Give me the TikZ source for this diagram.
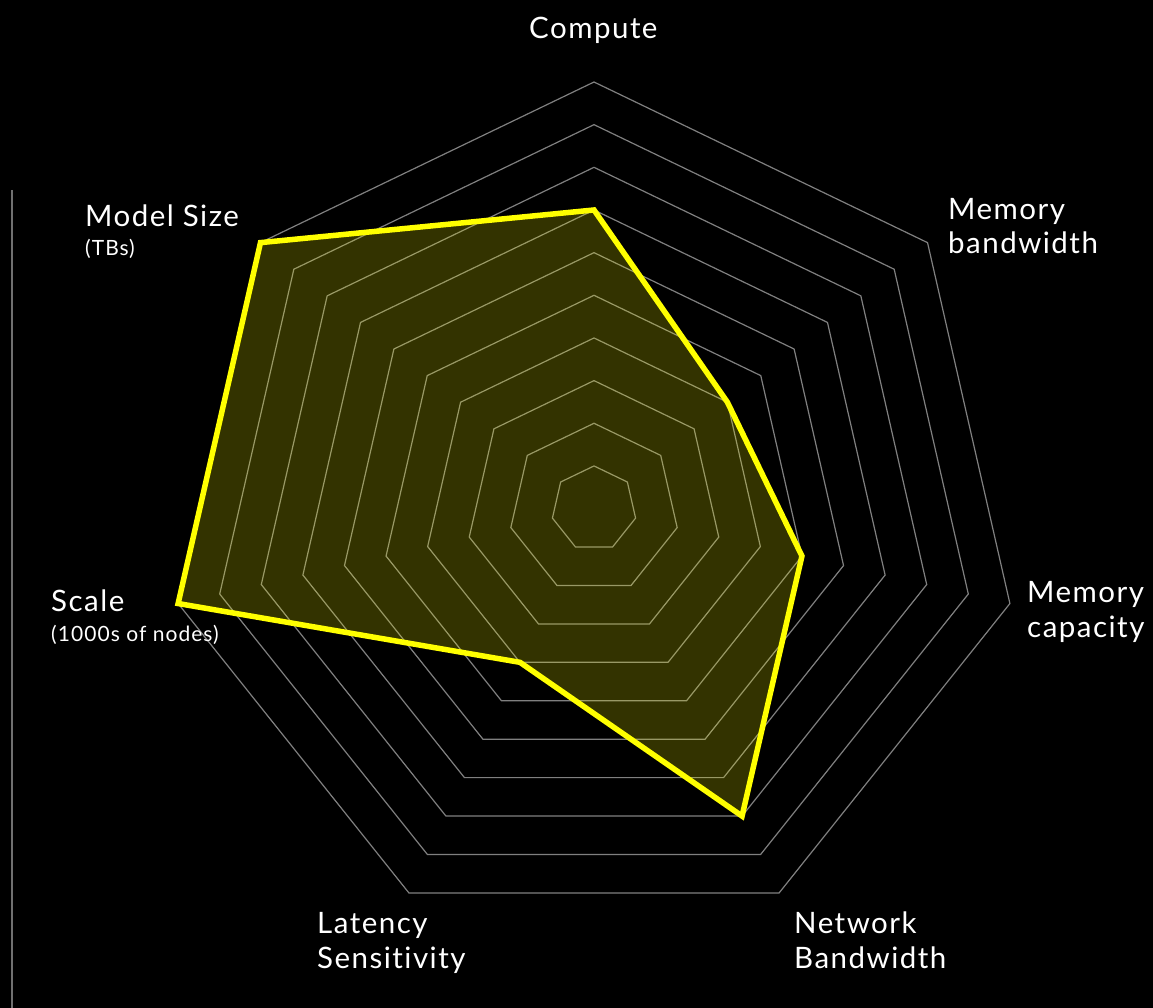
\documentclass[tikz,border=0pt]{standalone}
\usepackage{fontspec}
\setmainfont{Lato}[LetterSpace=5, Ligatures=NoCommon]
\usetikzlibrary{calc}
\definecolor{gridgray}{HTML}{808080}
\definecolor{railgray}{HTML}{707070}
\definecolor{hilite}{HTML}{FFFF00}
\tikzset{
  gridring/.style={draw=gridgray, line width=1.2pt, line join=miter},
  dataarea/.style={fill=hilite, fill opacity=0.2},
  dataedge/.style={draw=hilite, line width=5.5pt, line join=miter},
  axislabel/.style={text=white, font=\fontsize{29.5}{34.5}\selectfont, inner sep=0pt, anchor=base west, align=left},
  sublabel/.style={text=white, font=\fontsize{21}{24}\selectfont, inner sep=0pt, anchor=base west},
  rail/.style={draw=railgray, line width=1.8pt},
}
\begin{document}
\begin{tikzpicture}[x=1pt,y=1pt]
  % canvas
  \fill[black] (0,0) rectangle (1153,-1008);
  \useasboundingbox (0,0) rectangle (1153,-1008);

  % thin rail on the left
  \coordinate (railtop) at (12,-190);
  \coordinate (railbot) at (12,-1008);
  \draw[rail] (railtop) -- (railbot);

  % radar chart: seven axes, ten rings
  \begin{scope}[shift={(594,-508.6)}]
    \def\ring{42.66}
    \foreach \l in {1,...,10} {
      \draw[gridring] (90:\l*\ring)
        \foreach \k in {1,...,6} { -- ({90-\k*360/7}:\l*\ring) } -- cycle;
    }
    % values: compute, mem bw, mem cap, net bw, latency, scale, model size
    \path[dataarea]
      (90:7*\ring) -- ({90-360/7}:4*\ring) -- ({90-2*360/7}:5*\ring)
      -- ({90-3*360/7}:8*\ring) -- ({90-4*360/7}:4*\ring)
      -- ({90-5*360/7}:10*\ring) -- ({90-6*360/7}:10*\ring) -- cycle;
    \draw[dataedge]
      (90:7*\ring) -- ({90-360/7}:4*\ring) -- ({90-2*360/7}:5*\ring)
      -- ({90-3*360/7}:8*\ring) -- ({90-4*360/7}:4*\ring)
      -- ({90-5*360/7}:10*\ring) -- ({90-6*360/7}:10*\ring) -- cycle;
  \end{scope}

  % axis labels (two-line labels are anchored at their last baseline)
  \node[axislabel] (compute) at (529,-39) {Compute};
  \node[axislabel] (membw) at (948,-254) {Memory\\bandwidth};
  \node[axislabel] (memcap) at (1027,-637) {Memory\\capacity};
  \node[axislabel] (netbw) at (794,-968) {Network\\Bandwidth};
  \node[axislabel] (latency) at (317,-968) {Latency\\Sensitivity};
  \node[axislabel] (scale) at (51,-611) {Scale};
  \node[sublabel] (scaleunit) at (51,-641) {(1000s of nodes)};
  \node[axislabel] (model) at (85,-227) {Model Size};
  \node[sublabel] (modelunit) at (85,-255) {(TBs)};
\end{tikzpicture}
\end{document}
